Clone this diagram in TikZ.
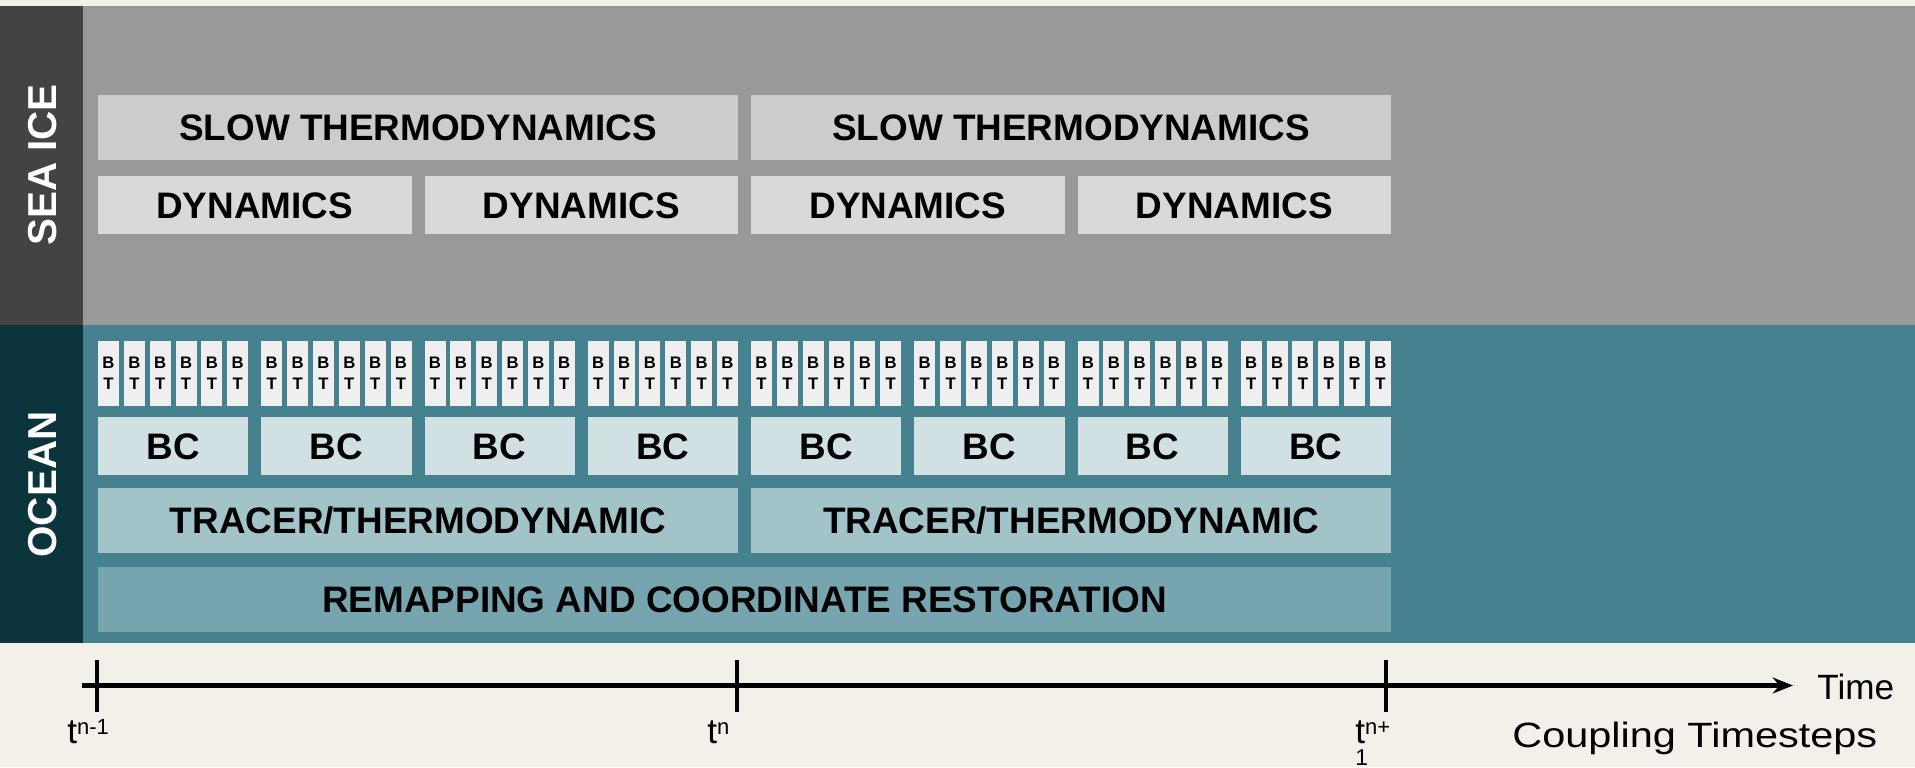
\documentclass[tikz,border=0pt]{standalone}
\usepackage{fontspec}
\setmainfont{Liberation Sans}
\usepackage{graphicx}
\usetikzlibrary{arrows.meta}

\definecolor{paper}{HTML}{F3EFE9}
\definecolor{icedark}{HTML}{434343}
\definecolor{icebg}{HTML}{999999}
\definecolor{slowfill}{HTML}{CCCCCC}
\definecolor{dynfill}{HTML}{D9D9D9}
\definecolor{oceandark}{HTML}{0C343D}
\definecolor{oceanbg}{HTML}{45818E}
\definecolor{btfill}{HTML}{EFEFEF}
\definecolor{bcfill}{HTML}{D0E0E3}
\definecolor{tracerfill}{HTML}{A2C4C9}
\definecolor{remapfill}{HTML}{76A5AF}

\newcommand{\px}{0.02cm}
\newcommand{\supt}[1]{\raisebox{5pt}{\fontsize{12.5}{14}\selectfont #1}}

\begin{document}
\begin{tikzpicture}[x=0.02cm, y=-0.02cm,
  stepbox/.style={inner sep=0pt, text height=15pt, text depth=0pt,
    font=\fontsize{21}{25}\selectfont\bfseries},
  slowbox/.style={stepbox, fill=slowfill, minimum width=640*\px, minimum height=65*\px},
  dynbox/.style={stepbox, fill=dynfill, minimum width=313.5*\px, minimum height=58*\px},
  bcbox/.style={stepbox, fill=bcfill, minimum width=150.25*\px, minimum height=58*\px},
  tracerbox/.style={stepbox, fill=tracerfill, minimum width=640*\px, minimum height=65*\px},
  remapbox/.style={stepbox, fill=remapfill, minimum width=1293*\px, minimum height=65*\px},
  btbox/.style={inner sep=0pt, fill=btfill, align=center, minimum width=21*\px,
    minimum height=65*\px, font=\fontsize{9.5}{11.9}\selectfont\bfseries},
  sidelabel/.style={rotate=90, inner sep=0pt, text=white,
    font=\fontsize{23}{27}\selectfont\bfseries},
  tlabel/.style={inner sep=0pt, anchor=base west, font=\fontsize{20}{12.5}\selectfont}]

% panels
\fill[paper] (0,0) rectangle (1915,767);
\fill[icedark] (0,6) rectangle (83,325);
\fill[icebg] (83,6) rectangle (1915,325);
\fill[oceandark] (0,325) rectangle (83,643);
\fill[oceanbg] (83,325) rectangle (1915,643);

\node[sidelabel] (seaice) at (42.5,165) {SEA ICE};
\node[sidelabel] (ocean) at (42.5,484.5) {OCEAN};

% sea ice
\foreach \i in {0,1}
  \node[slowbox] (slow\i) at (418+653*\i,127.5) {SLOW THERMODYNAMICS};
\foreach \i in {0,...,3}
  \node[dynbox] (dyn\i) at (254.75+326.5*\i,205) {DYNAMICS};

% ocean
\foreach \i in {0,...,7}
  \foreach \j in {0,...,5}
    \node[btbox] (bt\i\j) at (108.5+163.25*\i+25.85*\j,373.5) {B\\T};
\foreach \i in {0,...,7}
  \node[bcbox] (bc\i) at (173.125+163.25*\i,446) {BC};
\foreach \i in {0,1}
  \node[tracerbox] (tracer\i) at (418+653*\i,520.5) {TRACER/THERMODYNAMIC};
\node[remapbox] (remap) at (744.5,599.5) {REMAPPING AND COORDINATE RESTORATION};

% time axis
\coordinate (tstart) at (82,685.5);
\coordinate (tend) at (1793,685.5);
\draw[line width=3.4pt, -{Stealth[length=11.5pt,width=9pt]}] (tstart) -- (tend);
\foreach \x in {97,737,1386}
  \draw[line width=2.5pt] (\x,660) -- (\x,712);

\node[tlabel] (tprev) at (67,743) {t\supt{n-1}};
\node[tlabel] (tnow) at (707,743) {t\supt{n}};
\node[tlabel, align=left] (tnext) at (1355,765) {t\supt{n+}\\{\fontsize{13}{14}\selectfont 1}};

\node[tlabel, font=\fontsize{20}{24}\selectfont] (timelabel) at (1817,699) {Time};
\node[tlabel, font=\fontsize{20}{24}\selectfont] (coupling) at (1512,747)
  {\scalebox{1.18}[1]{Coupling Timesteps}};
\end{tikzpicture}
\end{document}
